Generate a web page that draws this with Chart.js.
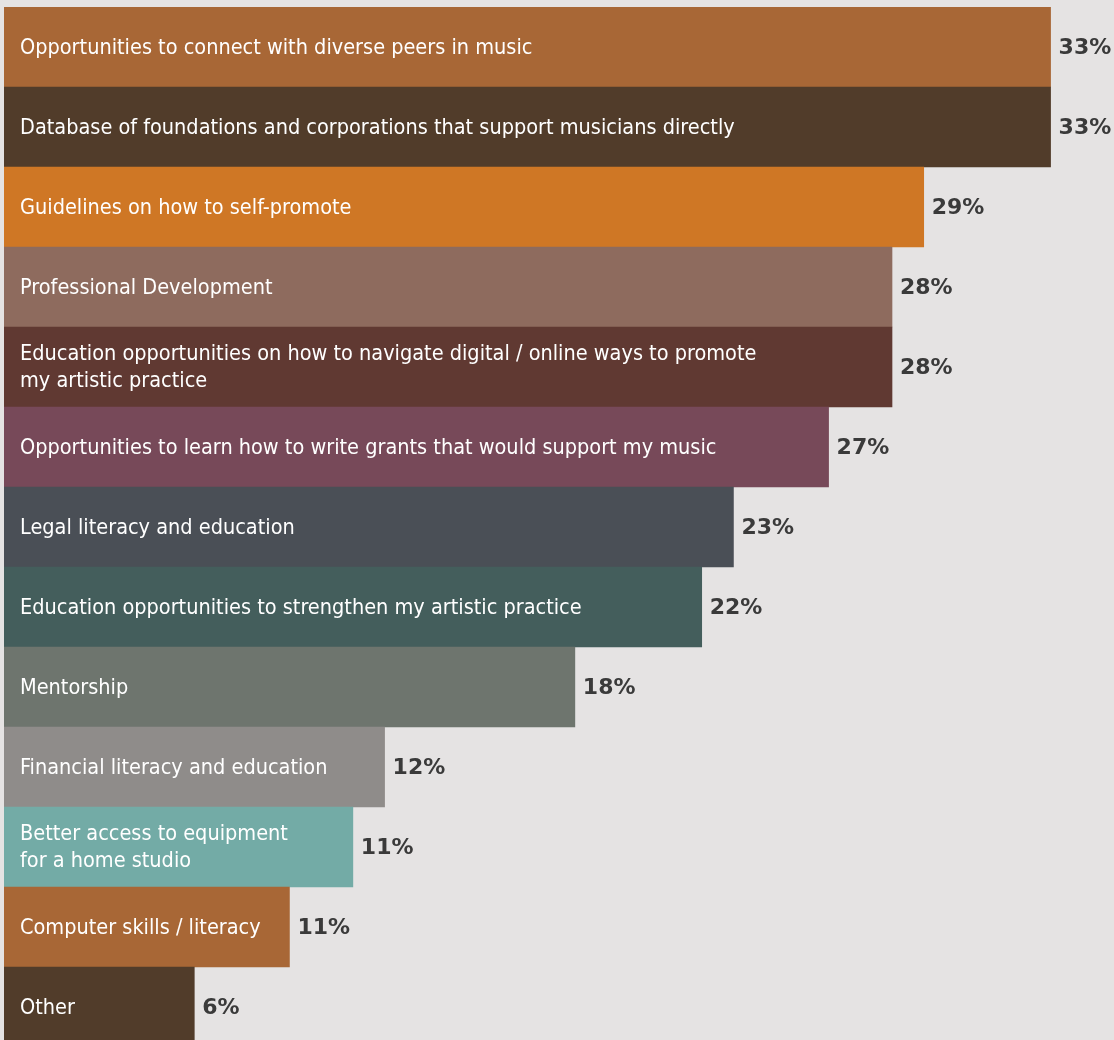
<!DOCTYPE html>
<html>
<head>
<meta charset="utf-8">
<script src="https://cdn.jsdelivr.net/npm/chart.js@4"></script>
<style>
  html, body { margin: 0; padding: 0; background: #e5e3e3; overflow: hidden; }
  #wrap { width: 1114px; height: 1047px; }
</style>
</head>
<body>
<div id="wrap"><canvas id="Canvas1"></canvas></div>
<script>
// categories (multi-line ones are arrays)
var labels = [
    'Opportunities to connect with diverse peers in music',
    'Database of foundations and corporations that support musicians directly',
    'Guidelines on how to self-promote',
    'Professional Development',
    ['Education opportunities on how to navigate digital / online ways to promote', 'my artistic practice'],
    'Opportunities to learn how to write grants that would support my music',
    'Legal literacy and education',
    'Education opportunities to strengthen my artistic practice',
    'Mentorship',
    'Financial literacy and education',
    ['Better access to equipment', 'for a home studio'],
    'Computer skills / literacy',
    'Other'
];
// bar lengths as drawn
var barValues = [33, 33, 29, 28, 28, 26, 23, 22, 18, 12, 11, 9, 6];
// printed value labels
var valueLabels = ['33%', '33%', '29%', '28%', '28%', '27%', '23%', '22%', '18%', '12%', '11%', '11%', '6%'];
var barColors = [
    '#a86736', '#513c2a', '#cf7725', '#8e6b5e', '#603932', '#774959', '#4a4f56',
    '#445e5c', '#6e756e', '#8f8c8a', '#73aba6', '#a86736', '#513c2a'
];

var barText = {
    id: 'barText',
    afterDatasetsDraw: function(chart) {
        var ctx = chart.ctx;
        var meta = chart.getDatasetMeta(0);
        var x0 = chart.scales.x.getPixelForValue(0);
        ctx.save();
        ctx.textBaseline = 'middle';
        meta.data.forEach(function(bar, i) {
            var lines = Array.isArray(labels[i]) ? labels[i] : [labels[i]];
            ctx.fillStyle = '#ffffff';
            ctx.font = '21.5px "Liberation Sans Narrow", "DejaVu Sans Condensed", sans-serif';
            ctx.textAlign = 'left';
            var lh = 27;
            var start = bar.y + 1 - (lines.length - 1) * lh / 2;
            lines.forEach(function(line, j) {
                ctx.fillText(line, x0 + 16, start + j * lh);
            });
            ctx.fillStyle = '#3a3a3a';
            ctx.font = 'bold 22px "DejaVu Sans", sans-serif';
            ctx.fillText(valueLabels[i], bar.x + 8, bar.y + 1);
        });
        ctx.restore();
    }
};

var GKChart = document.getElementById('Canvas1').getContext('2d');
var myChart = new Chart(GKChart, {
    type: 'bar',
    data: {
        labels: labels,
        datasets: [{
            data: barValues,
            backgroundColor: barColors,
            borderWidth: 0,
            categoryPercentage: 1,
            barPercentage: 1
        }]
    },
    options: {
        indexAxis: 'y',
        responsive: true,
        maintainAspectRatio: false,
        animation: false,
        layout: { padding: { left: 4, right: 0, top: 7, bottom: 0 } },
        plugins: { legend: { display: false }, tooltip: { enabled: false } },
        scales: {
            x: { display: false, min: 0, max: 35 },
            y: { display: false }
        }
    },
    plugins: [barText]
});
</script>
</body>
</html>
